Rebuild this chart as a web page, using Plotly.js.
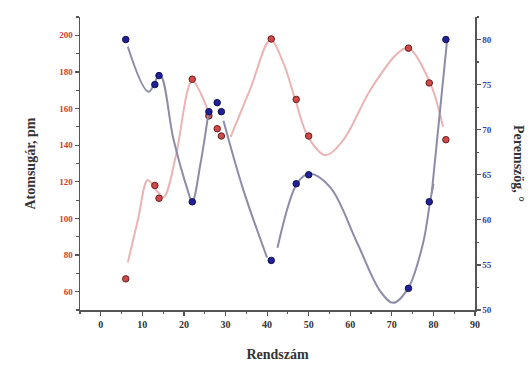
<!DOCTYPE html>
<html>
<head>
<meta charset="utf-8">
<script src="https://cdn.plot.ly/plotly-3.0.1.min.js"></script>
<style>html,body{margin:0;padding:0;background:#fff;}#chart{width:531px;height:369px;}</style>
</head>
<body>
<div id="chart"></div>
<script>
// Measured points
const rendszam   = [6, 13, 14, 22, 26, 28, 29, 41, 47, 50, 74, 79, 83];
const atomsugar  = [67, 118, 111, 176, 156, 149, 145, 198, 165, 145, 193, 174, 143];
const peremszog  = [80, 75, 76, 62, 72, 73, 72, 55.5, 64, 65, 52.4, 62, 80];

// Fitted curves (null = gap)
const redCurveX = [6.5, 9, 11.3, 13.5, 15.1, 18, 20.9, 22, 24, 25.9, null,
                   31.2, 36, 40.8, 43.9, 46.8, 49.9, 54, 58.3, 64.8, 71.3, 74, 79.2, 82.3];
const redCurveY = [76, 100, 121, 115, 111.6, 133.5, 170, 175.6, 168.5, 158, null,
                   144.4, 171, 197.4, 185, 164.6, 144.4, 134.6, 142.8, 170, 190, 193, 174, 150];

const blueCurveX = [6.5, 11.5, 14.2, 17.5, 20.9, 22, 24, 25.9, null,
                    29.5, 34.3, 40, null,
                    42.5, 47.3, 50.2, 55.2, 61.7, 67.2, 70.3, 73.9, 77.5, 79.2, 80, null,
                    79.6, 83.3];
const blueCurveY = [79.2, 74.2, 76.1, 68.9, 63.3, 62, 66.3, 71.9, null,
                    71, 63.3, 55.8, null,
                    56.9, 64.1, 65.1, 63.6, 57.4, 52.1, 50.8, 52.4, 57.4, 62, 64, null,
                    63, 80];

const xTicks = [0, 10, 20, 30, 40, 50, 60, 70, 80, 90];
const leftTicks = [60, 80, 100, 120, 140, 160, 180, 200];
const rightTicks = [50, 55, 60, 65, 70, 75, 80];

const serif = 'Liberation Serif, Times New Roman, serif';

const traces = [
  {x: redCurveX, y: redCurveY, mode: 'lines', line: {color: '#ebb4b4', width: 2, shape: 'spline', smoothing: 1},
   connectgaps: false, hoverinfo: 'skip', showlegend: false},
  {x: blueCurveX, y: blueCurveY, yaxis: 'y2', mode: 'lines', line: {color: '#8c8caa', width: 2, shape: 'spline', smoothing: 1},
   connectgaps: false, hoverinfo: 'skip', showlegend: false},
  {x: rendszam, y: atomsugar, mode: 'markers',
   marker: {size: 6.5, color: '#d04848', line: {color: '#6a2020', width: 1}}, showlegend: false},
  {x: rendszam, y: peremszog, yaxis: 'y2', mode: 'markers',
   marker: {size: 6.5, color: '#20209a', line: {color: '#101050', width: 1}}, showlegend: false}
];

const layout = {
  width: 531, height: 369,
  margin: {l: 80, r: 56, t: 17, b: 59},
  paper_bgcolor: '#fff', plot_bgcolor: '#fff',
  showlegend: false,
  font: {family: serif, size: 10, color: '#222', weight: 'bold'},
  xaxis: {
    range: [-5, 90], tickvals: xTicks, ticktext: xTicks.map(String),
    showgrid: false, zeroline: false, showline: true, linecolor: '#555', linewidth: 1.5,
    ticks: 'outside', ticklen: 4, tickwidth: 1.2, tickcolor: '#555',
    minor: {dtick: 5, tick0: 0, ticks: 'outside', ticklen: 2.5, tickcolor: '#555', showgrid: false},
    tickfont: {family: serif, size: 10, color: '#333', weight: 'bold'},
    title: {text: 'Rendszám', font: {family: serif, size: 14, color: '#333', weight: 'bold'}, standoff: 20}
  },
  xaxis2: {
    overlaying: 'x', side: 'top', range: [-5, 90], tickvals: xTicks,
    showticklabels: false, showgrid: false, zeroline: false, showline: true, linecolor: '#555', linewidth: 1.5,
    ticks: 'inside', ticklen: 4, tickwidth: 1.2, tickcolor: '#555',
    minor: {dtick: 5, tick0: 0, ticks: 'inside', ticklen: 2.5, tickcolor: '#555', showgrid: false}
  },
  yaxis: {
    range: [50, 210], tickvals: leftTicks, ticktext: leftTicks.map(String),
    showgrid: false, zeroline: false, showline: true, linecolor: '#555', linewidth: 1.5,
    ticks: 'outside', ticklen: 4, tickwidth: 1.2, tickcolor: '#555',
    minor: {dtick: 10, tick0: 0, ticks: 'outside', ticklen: 2.5, tickcolor: '#555', showgrid: false},
    tickfont: {family: serif, size: 9, color: '#d03a3a', weight: 'bold'},
    title: {text: 'Atomsugár, pm', font: {family: serif, size: 14, color: '#333', weight: 'bold'}, standoff: 20}
  },
  yaxis2: {
    overlaying: 'y', side: 'right', range: [50, 82.5], tickvals: rightTicks, ticktext: rightTicks.map(String),
    showgrid: false, zeroline: false, showline: true, linecolor: '#555', linewidth: 1.5,
    ticks: 'outside', ticklen: 4, tickwidth: 1.2, tickcolor: '#555',
    minor: {dtick: 2.5, tick0: 0, ticks: 'outside', ticklen: 2.5, tickcolor: '#555', showgrid: false},
    tickfont: {family: serif, size: 9, color: '#3a3ab0', weight: 'bold'}
  },
  annotations: [{
    text: 'Peremszög, °', xref: 'paper', yref: 'paper', x: 1.11, y: 0.5,
    textangle: 90, showarrow: false, xanchor: 'center', yanchor: 'middle',
    font: {family: serif, size: 14, color: '#333', weight: 'bold'}
  }]
};

Plotly.newPlot('chart', traces, layout, {displayModeBar: false, staticPlot: true});
</script>
</body>
</html>
